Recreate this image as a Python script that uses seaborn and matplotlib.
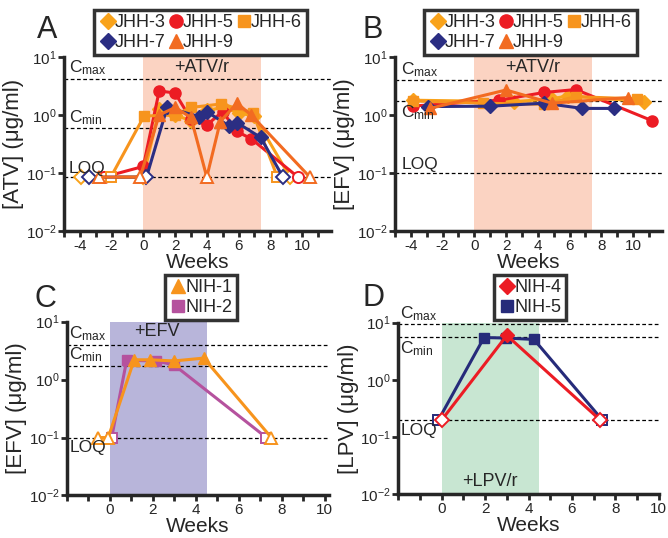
import pandas as pd
import seaborn as sns
import matplotlib
matplotlib.use('Agg')
import matplotlib.pyplot as plt
from matplotlib.lines import Line2D
from matplotlib.ticker import NullLocator

# ---- values ----
# Panel A: plasma ATV (ug/ml)
atv_loq, atv_cmin, atv_cmax = 0.085, 0.6, 4.2
a_jhh3_wk = [-3.9, 0.0, 1.0, 2.0, 3.0, 4.0, 5.0, 6.0, 7.0, 9.25]
a_jhh3 = [0.085, 0.085, 1.25, 1.0, 0.8, 1.2, 1.35, 1.1, 0.95, 0.085]
a_jhh5_wk = [-2.5, 0.0, 1.0, 2.0, 3.0, 4.0, 5.0, 5.9, 6.8, 9.75]
a_jhh5 = [0.085, 0.13, 2.6, 2.4, 0.85, 0.67, 1.15, 0.52, 0.39, 0.085]
a_jhh6_wk = [-2.05, 0.05, 2.0, 3.0, 4.9, 6.9, 8.45]
a_jhh6 = [0.085, 0.96, 1.0, 1.35, 1.55, 1.1, 0.085]
a_jhh7_wk = [-3.4, 0.2, 1.5, 3.5, 4.0, 5.4, 5.9, 7.4, 8.8]
a_jhh7 = [0.085, 0.085, 1.35, 0.94, 1.14, 0.65, 0.74, 0.41, 0.085]
a_jhh9_wk = [-2.8, -0.2, 1.0, 2.0, 3.0, 4.0, 4.85, 5.9, 6.8, 10.5]
a_jhh9 = [0.085, 0.085, 1.0, 1.35, 0.91, 0.085, 0.77, 1.6, 1.0, 0.085]

# Panel B: plasma EFV (ug/ml), same subjects
efv_loq, efv_cmin, efv_cmax = 0.1, 1.75, 4.0
b_jhh3_wk = [-3.85, 2.5, 4.9, 5.9, 10.7]
b_jhh3 = [1.8, 1.7, 1.9, 2.15, 1.7]
b_jhh5_wk = [-3.85, 1.55, 4.4, 6.4, 11.2]
b_jhh5 = [1.43, 1.8, 2.45, 2.75, 0.8]
b_jhh6_wk = [-3.85, 0.55, 4.4, 6.4, 10.25]
b_jhh6 = [1.75, 1.6, 1.53, 2.07, 1.9]
b_jhh7_wk = [-2.9, 1.0, 4.4, 6.8, 8.8]
b_jhh7 = [1.4, 1.42, 1.6, 1.3, 1.3]
b_jhh9_wk = [-2.8, 2.0, 4.9, 9.7]
b_jhh9 = [1.3, 2.7, 1.6, 2.0]

# Panel C: EFV in NIH subjects
c_nih1_wk = [-0.55, -0.08, 1.13, 1.86, 2.98, 4.37, 7.52]
c_nih1 = [0.1, 0.1, 2.2, 2.2, 2.1, 2.35, 0.1]
c_nih2_wk = [0.08, 0.78, 2.14, 2.98, 7.29]
c_nih2 = [0.1, 2.15, 2.1, 1.8, 0.1]

# Panel D: LPV
lpv_loq, lpv_cmin, lpv_cmax = 0.2, 5.7, 9.5
d_nih4_wk = [0.0, 3.0, 7.3]
d_nih4 = [0.2, 6.0, 0.2]
d_nih5_wk = [-0.15, 1.95, 2.95, 4.25, 7.4]
d_nih5 = [0.2, 5.5, 5.4, 5.1, 0.2]

# colours / markers
col = {'JHH-3': '#F9A31B', 'JHH-5': '#EC1C24', 'JHH-6': '#F7941D',
       'JHH-7': '#2B2E83', 'JHH-9': '#F26B21',
       'NIH-1': '#F7941D', 'NIH-2': '#B5529E',
       'NIH-4': '#EC1C24', 'NIH-5': '#262B7A'}
mk = {'JHH-3': 'D', 'JHH-5': 'o', 'JHH-6': 's', 'JHH-7': 'D', 'JHH-9': '^',
      'NIH-1': '^', 'NIH-2': 's', 'NIH-4': 'D', 'NIH-5': 's'}
msz = {'D': 7, 'o': 8, 's': 6.5, '^': 8}

sns.set_style('ticks')
plt.rcParams['font.family'] = ['Liberation Sans', 'DejaVu Sans']
plt.rcParams['mathtext.fontset'] = 'custom'
plt.rcParams['mathtext.rm'] = 'Liberation Sans'
plt.rcParams['mathtext.it'] = 'Liberation Sans:italic'
plt.rcParams['axes.unicode_minus'] = False

fig = plt.figure(figsize=(6.68, 5.38), dpi=100)
axA = fig.add_axes([0.0958, 0.5706, 0.399, 0.3234])
axB = fig.add_axes([0.5913, 0.5706, 0.399, 0.3234])
axC = fig.add_axes([0.1003, 0.0790, 0.392, 0.3231])
axD = fig.add_axes([0.5963, 0.0810, 0.3898, 0.3192])


def plot_series(ax, name, wk, val, loq):
    c, m = col[name], mk[name]
    df = pd.DataFrame({'week': wk, 'conc': val})
    sns.lineplot(data=df, x='week', y='conc', ax=ax, color=c, lw=2.2,
                 sort=False, estimator=None)
    det = df[df.conc > loq * 1.001]
    und = df[df.conc <= loq * 1.001]
    ax.plot(det.week, det.conc, ls='none', marker=m, ms=msz[m], color=c, mec=c)
    ax.plot(und.week, und.conc, ls='none', marker=m, ms=msz[m], mfc='white',
            mec=c, mew=1.4)


def style_axes(ax, xlim, majors, minors, ylab):
    ax.set_yscale('log')
    ax.set_ylim(1e-2, 10)
    ax.set_xlim(*xlim)
    ax.set_yticks([1e-2, 1e-1, 1, 10])
    ax.set_yticklabels(['$10^{-2}$', '$10^{-1}$', '$10^{0}$', '$10^{1}$'])
    ax.yaxis.set_minor_locator(NullLocator())
    ax.set_xticks(majors)
    ax.set_xticks(minors, minor=True)
    ax.tick_params(axis='both', which='both', direction='out', length=4,
                   width=2, labelsize=11, pad=1.5)
    sns.despine(ax=ax)
    for s in ['left', 'bottom']:
        ax.spines[s].set_linewidth(2.5)
    ax.set_xlabel('Weeks', fontsize=15, labelpad=0)
    ax.set_ylabel(ylab, fontsize=16, labelpad=1)


def ref_line(ax, y, x0, label, above):
    ax.axhline(y, color='black', ls=(0, (3, 2)), lw=0.9, zorder=1)
    ax.annotate(label, xy=(x0, y), xytext=(0, 1 if above else -2),
                textcoords='offset points', va='bottom' if above else 'top',
                ha='left', fontsize=12.5)


def add_legend(ax, names, ncol, center):
    hs = [Line2D([], [], ls='none', marker=mk[n], color=col[n],
                 ms=msz[mk[n]] + 1.5) for n in names]
    leg = ax.legend(hs, names, ncol=ncol, loc='center', bbox_to_anchor=center,
                    bbox_transform=fig.transFigure, frameon=True, fancybox=False,
                    edgecolor='black', handletextpad=-0.1, columnspacing=0.05,
                    handlelength=1.0, borderpad=0.25, labelspacing=0.15,
                    fontsize=13)
    leg.get_frame().set_linewidth(2.5)


# ---- A ----
axA.axvspan(0, 7.4, color='#FBD3C2', lw=0, zorder=0)
for n, w, v in [('JHH-3', a_jhh3_wk, a_jhh3), ('JHH-5', a_jhh5_wk, a_jhh5),
                ('JHH-6', a_jhh6_wk, a_jhh6), ('JHH-7', a_jhh7_wk, a_jhh7),
                ('JHH-9', a_jhh9_wk, a_jhh9)]:
    plot_series(axA, n, w, v, atv_loq)
style_axes(axA, (-5, 11.8), range(-4, 11, 2), range(-5, 12, 2), '[ATV] (μg/ml)')
ref_line(axA, atv_cmax, -4.7, r'C$_{\rm max}$', True)
ref_line(axA, atv_cmin, -4.7, r'C$_{\rm min}$', True)
ref_line(axA, atv_loq, -4.7, 'LOQ', True)
axA.text(3.7, 6.6, '+ATV/r', ha='center', va='center', fontsize=13)
add_legend(axA, ['JHH-3', 'JHH-7', 'JHH-5', 'JHH-9', 'JHH-6'], 3, (0.300, 0.9396))

# ---- B ----
axB.axvspan(0, 7.4, color='#FBD3C2', lw=0, zorder=0)
for n, w, v in [('JHH-3', b_jhh3_wk, b_jhh3), ('JHH-5', b_jhh5_wk, b_jhh5),
                ('JHH-6', b_jhh6_wk, b_jhh6), ('JHH-7', b_jhh7_wk, b_jhh7),
                ('JHH-9', b_jhh9_wk, b_jhh9)]:
    plot_series(axB, n, w, v, efv_loq)
style_axes(axB, (-5, 11.8), range(-4, 11, 2), range(-5, 12, 2), '[EFV] (μg/ml)')
ref_line(axB, efv_cmax, -4.6, r'C$_{\rm max}$', True)
ref_line(axB, efv_cmin, -4.6, r'C$_{\rm min}$', False)
ref_line(axB, efv_loq, -4.6, 'LOQ', True)
axB.text(3.7, 6.6, '+ATV/r', ha='center', va='center', fontsize=13)
add_legend(axB, ['JHH-3', 'JHH-7', 'JHH-5', 'JHH-9', 'JHH-6'], 3, (0.794, 0.9396))

# ---- C ----
axC.axvspan(0, 4.5, color='#B8B5DA', lw=0, zorder=0)
plot_series(axC, 'NIH-2', c_nih2_wk, c_nih2, efv_loq)
plot_series(axC, 'NIH-1', c_nih1_wk, c_nih1, efv_loq)
style_axes(axC, (-2, 10.2), range(0, 11, 2), [-2, -1, 1, 3, 5, 7, 9], '[EFV] (μg/ml)')
ref_line(axC, efv_cmax, -1.9, r'C$_{\rm max}$', True)
ref_line(axC, efv_cmin, -1.9, r'C$_{\rm min}$', True)
ref_line(axC, efv_loq, -1.9, 'LOQ', False)
axC.text(2.2, 6.8, '+EFV', ha='center', va='center', fontsize=13)
add_legend(axC, ['NIH-1', 'NIH-2'], 1, (0.301, 0.447))

# ---- D ----
axD.axvspan(0, 4.5, color='#C8E6D2', lw=0, zorder=0)
plot_series(axD, 'NIH-5', d_nih5_wk, d_nih5, lpv_loq)
plot_series(axD, 'NIH-4', d_nih4_wk, d_nih4, lpv_loq)
style_axes(axD, (-2, 10), range(0, 11, 2), [-2, -1, 1, 3, 5, 7, 9], '[LPV] (μg/ml)')
ref_line(axD, lpv_cmax, -1.9, r'C$_{\rm max}$', True)
ref_line(axD, lpv_cmin, -1.9, r'C$_{\rm min}$', False)
ref_line(axD, lpv_loq, -1.9, 'LOQ', False)
axD.text(2.2, 0.017, '+LPV/r', ha='center', va='center', fontsize=13)
add_legend(axD, ['NIH-4', 'NIH-5'], 1, (0.793, 0.447))

for x, y, s in [(0.055, 0.929, 'A'), (0.543, 0.929, 'B'),
                (0.052, 0.429, 'C'), (0.542, 0.432, 'D')]:
    fig.text(x, y, s, fontsize=22, va='baseline', ha='left')

fig.savefig('out.png', dpi=100)
